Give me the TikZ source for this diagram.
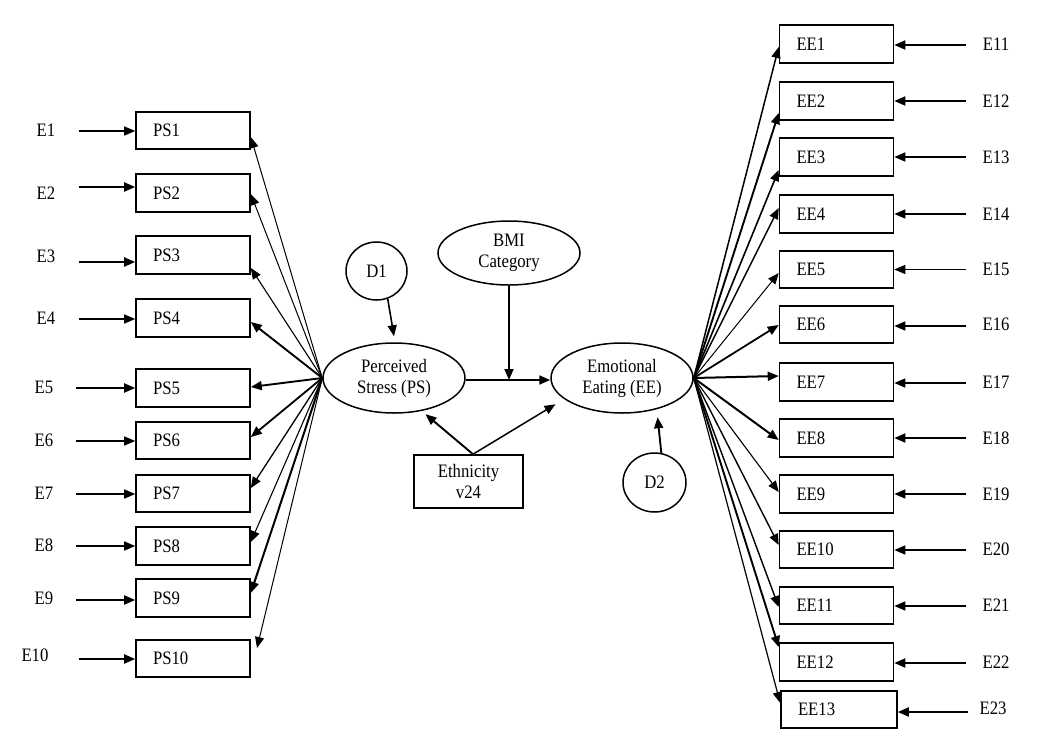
\documentclass[tikz,border=0pt]{standalone}
\usepackage{fontspec}
\setmainfont[FakeStretch=0.88]{Liberation Serif}
\usetikzlibrary{arrows.meta,shapes.geometric}
\begin{document}
\begin{tikzpicture}[x=1pt,y=-1pt,
  font=\fontsize{19}{21}\selectfont,
  ind/.style={draw,line width=1.6pt,rectangle,minimum width=114pt,minimum height=37.5pt,
    inner xsep=17pt,inner ysep=0pt,text width=80pt,align=left},
  lat/.style={draw,ellipse,line width=1.5pt,minimum width=142pt,minimum height=70pt,inner sep=0pt,align=center},
  dist/.style={draw,ellipse,line width=1.5pt,inner sep=0pt},
  lab/.style={inner sep=0pt},
  arr/.style={-{Triangle[length=11pt,width=9pt]}}]
\useasboundingbox[fill=white] (0,0) rectangle (1050,745);

% latent variables
\node[lat] (PS) at (394,378) {Perceived\\Stress (PS)};
\node[lat] (EE) at (622,378) {Emotional\\Eating (EE)};
\node[lat,minimum height=64pt] (BMI) at (509,253) {BMI\\Category};
\node[draw,rectangle,line width=1.6pt,minimum width=109pt,minimum height=53pt,inner sep=0pt,align=center] (Eth) at (468.5,481.5) {Ethnicity\\v24};
\node[dist,minimum width=61pt,minimum height=58pt] (D1) at (376.5,271) {D1};
\node[dist,minimum width=63pt,minimum height=59pt] (D2) at (654.5,482.5) {D2};

% structural paths
\coordinate (mid) at (509,380);
\draw[line width=2pt,arr] ([yshift=-2pt]PS.east) -- ([yshift=-2pt]EE.west);
\draw[line width=1.8pt,arr] (BMI.south) -- (mid);
\draw[line width=1.6pt,arr] (D1.-68) -- ([yshift=6pt]PS.north);
\draw[line width=1.9pt,arr,shorten >=8pt] (D2.77) -- (EE.-42);
\draw[line width=1.9pt,arr,shorten >=5pt] ([xshift=4.5pt]Eth.north) -- (PS.-50);
\draw[line width=1.5pt,arr,shorten >=10pt] ([xshift=4.5pt]Eth.north) -- (EE.200);

% Perceived stress indicators
\foreach \i/\cy/\lx/\ly/\sx/\ay/\elw in {
  1/130.5/46/130/79/131/1.2,
  2/193/46/193/79/187/1.9,
  3/255/46/256/79/262/1.9,
  4/318/46/318/79/319/1.5,
  5/388/44/387/76/388/1.9,
  6/440.5/44/440/76/441/1.2,
  7/493.5/44/493/76/494/1.5,
  8/546/44/545/76/546/1.5,
  9/598/44/598/76/600/1.9,
  10/658.5/35/655/79/659/2.0}{
  \node[ind] (PS\i) at (193,\cy) {PS\i};
  \node[lab] (E\i) at (\lx,\ly) {E\i};
  \coordinate (es\i) at (\sx,\ay);
  \draw[arr,line width=\elw pt] (es\i) -- (es\i -| PS\i.west);
}
\foreach \i/\ts/\lw in {1/-6.5/1.0,2/-1/1.0,3/-13/1.1,4/-4/1.9,5/1/1.9,6/3.5/1.8,7/5.5/1.3,8/4/1.1,9/5/2.0}{
  \draw[arr,line width=\lw pt] (PS.west) -- ([yshift=\ts pt]PS\i.east);
}
\coordinate (p10) at (257,648);
\draw[arr,line width=1.0pt] (PS.west) -- (p10);

% Emotional eating indicators
\foreach \i/\cy/\ts/\lw/\ay/\elw in {
  1/44/-3/1.5/45/1.8,
  2/101/-12/1.9/101/1.8,
  3/157/-13/1.6/157/1.6,
  4/214/6/1.5/214/1.1,
  5/269.5/-3.5/1.0/269.5/1.4,
  6/324.5/-0.5/1.8/326/1.5,
  7/382/6/2.0/383/1.5,
  8/438/-2/2.0/438/1.8,
  9/494/2/1.1/494/1.2,
  10/549.5/4.5/1.4/550/1.6,
  11/605.5/-1.5/1.4/606/1.4,
  12/662/15/1.9/663/1.8}{
  \pgfmathtruncatemacro\j{\i+10}
  \node[ind] (EE\i) at (836.5,\cy) {EE\i};
  \node[lab] (E\j) at (996,\cy) {E\j};
  \coordinate (rs\i) at (966,\ay);
  \draw[arr,line width=\elw pt] (rs\i) -- (rs\i -| EE\i.east);
  \draw[arr,line width=\lw pt] (EE.east) -- ([yshift=\ts pt]EE\i.west);
}
\node[ind,minimum width=116pt,text width=82pt] (EE13) at (839,709.5) {EE13};
\node[lab] (E23) at (993,708) {E23};
\coordinate (rs13) at (968,712);
\draw[arr,line width=1.8pt] (rs13) -- (rs13 -| EE13.east);
\draw[arr,line width=1.2pt] (EE.east) -- ([yshift=6.5pt]EE13.west);
\end{tikzpicture}
\end{document}
